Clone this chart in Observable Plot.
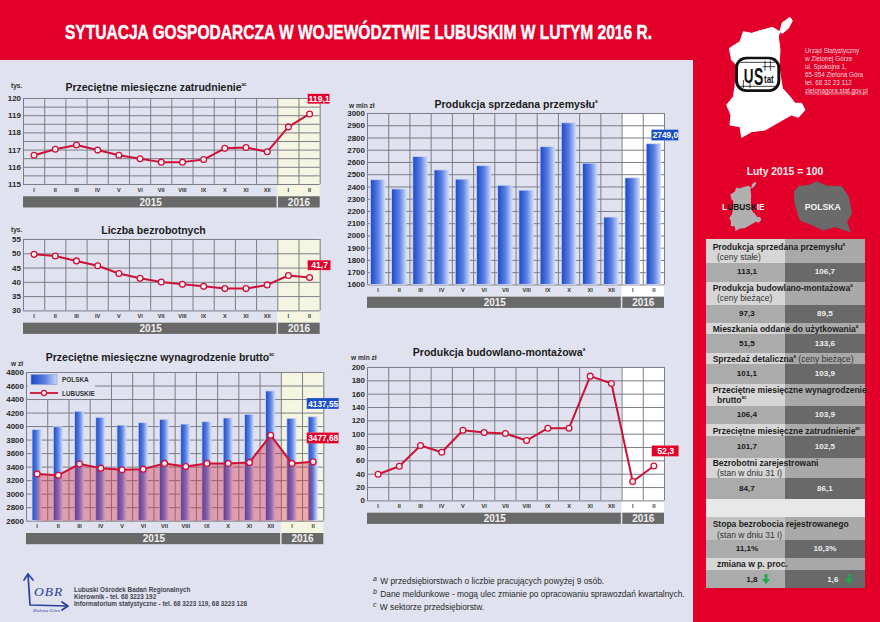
<!DOCTYPE html>
<html lang="pl">
<head>
<meta charset="utf-8">
<title>Sytuacja gospodarcza w województwie lubuskim w lutym 2016 r.</title>
<script src="https://cdn.jsdelivr.net/npm/d3@7"></script>
<script src="https://cdn.jsdelivr.net/npm/@observablehq/plot@0.6"></script>
<style>
html,body{margin:0;padding:0;background:#e0e2ef;}
#page{position:relative;width:880px;height:622px;overflow:hidden;background:#e0e2ef;font-family:"Liberation Sans",Arial,sans-serif;color:#222;}
.abs{position:absolute;white-space:nowrap;line-height:1;}
.title{font-weight:700;font-size:10.5px;color:#1c1c1c;transform:translate(-50%,-50%);}
.title sup,.th sup{font-size:4.5px;vertical-align:super;line-height:0;font-weight:700;}
.unit{font-weight:700;font-size:6.6px;color:#333;transform:translateY(-50%);}
.th{font-weight:700;font-size:8.5px;color:#1e1e1e;transform:translateY(-50%);}
.th .sub,.sub{font-weight:400;color:#333;}
.tv{font-weight:700;font-size:8.1px;transform:translate(-50%,-50%);}
.foot{font-size:8.4px;color:#2a2a2a;transform:translateY(-50%);}
.foot i{font-size:7px;vertical-align:3px;margin-right:1px;}
.obr{font-size:6.35px;font-weight:700;color:#454550;transform:translateY(-50%);}
</style>
</head>
<body>
<svg width="0" height="0" style="position:absolute">
  <defs>
    <linearGradient id="barGrad" x1="0" x2="1" y1="0" y2="0">
      <stop offset="0" stop-color="#1a48c8"/>
      <stop offset=".55" stop-color="#5c82e2"/>
      <stop offset="1" stop-color="#ccd8f6"/>
    </linearGradient>
  </defs>
</svg>
<div id="page"></div>
<script>
// ---------- data ----------
const months = ["I","II","III","IV","V","VI","VII","VIII","IX","X","XI","XII","I","II"];
const years = ["2015","2016"];
const employment = [116.7,117.05,117.3,117.0,116.7,116.5,116.3,116.3,116.45,117.1,117.15,116.9,118.35,119.1];
const unemployed = [49.8,49.2,47.5,45.8,43.1,41.4,40.1,39.3,38.6,37.8,37.8,39.1,42.4,41.7];
const wagesPolska = [3950,3990,4220,4130,4015,4050,4100,4030,4065,4120,4175,4520,4115,4137.55];
const wagesLubuskie = [3300,3280,3445,3385,3360,3370,3455,3410,3455,3455,3470,3870,3455,3477.68];
const industry = [2455,2380,2645,2535,2460,2570,2410,2370,2725,2920,2590,2150,2470,2749];
const construction = [40,52,83,73,106,102.5,101,90.5,109,109,187,176,29,52.3];

const tableHeads = [
  'Produkcja sprzedana przemysłu<sup>a</sup>',
  'Produkcja budowlano-montażowa<sup>a</sup>',
  'Mieszkania oddane do użytkowania<sup>a</sup>',
  'Sprzedaż detaliczna<sup>a</sup> <span class="sub">(ceny bieżące)</span>',
  'Przeciętne miesięczne wynagrodzenie',
  'Przeciętne miesięczne zatrudnienie<sup>ac</sup>',
  'Bezrobotni zarejestrowani',
  'Stopa bezrobocia rejestrowanego'
];
const tableSubs = ['(ceny stałe)','(ceny bieżące)','','','<b style="color:#1e1e1e">brutto<sup>ac</sup></b>','','(stan w dniu 31 I)','(stan w dniu 31 I)'];
const tableLubuskie = ["113,1","97,3","51,5","101,1","106,4","101,7","84,7","11,1%"];
const tablePolska = ["106,7","89,5","133,6","103,9","103,9","102,5","86,1","10,3%"];
const changeLabel = "zmiana w p. proc.";
const changeValues = ["1,8","1,6"];
const footnotes = [
  ["a","W przedsiębiorstwach o liczbie pracujących powyżej 9 osób."],
  ["b","Dane meldunkowe - mogą ulec zmianie po opracowaniu sprawozdań kwartalnych."],
  ["c","W sektorze przedsiębiorstw."]
];
const address = ["Urząd Statystyczny","w Zielonej Górze","ul. Spokojna 1,","65-954 Zielona Góra","tel. 68 32 23 112","zielonagora.stat.gov.pl"];
const obrLines = ["Lubuski Ośrodek Badań Regionalnych","Kierownik - tel. 68 3223 192","Informatorium statystyczne - tel. 68 3223 119, 68 3223 128"];

// ---------- colours ----------
const RED="#e2002a", LINE="#cc1238", BLUE="#1b50c4", GRID="#7c7c86", BAR="#696969", CREAM="#f5f6e2";
const page=document.getElementById("page");

function put(html,cls,x,y,extra){
  const d=document.createElement("div");
  d.className="abs "+cls;d.innerHTML=html;d.style.left=x+"px";d.style.top=y+"px";
  if(extra)Object.assign(d.style,extra);
  page.appendChild(d);return d;
}
function box(x,y,w,h,bg){
  const d=document.createElement("div");
  Object.assign(d.style,{position:"absolute",left:x+"px",top:y+"px",width:w+"px",height:h+"px",background:bg});
  page.appendChild(d);return d;
}

// ---------- frame ----------
box(0,0,880,59.5,RED);
box(692.5,0,187.5,622,RED);

// ---------- shared chart builder ----------
function badge(xv,yv,label,color,dx,dy,w,h,fs){
  const d=[{x:xv,y:yv,label}];
  return [
    Plot.rect(d,{x1:"x",x2:"x",y1:"y",y2:"y",dx,dy,fill:color,stroke:"#ffffff",strokeOpacity:.35,strokeWidth:.5,
      insetLeft:-w/2,insetRight:-w/2,insetTop:-h/2,insetBottom:-h/2}),
    Plot.text(d,{x:"x",y:"y",dx,dy,text:"label",fill:"#fff",fontWeight:700,fontSize:fs||8.6})
  ];
}
function redLine(rows){
  return [
    Plot.line(rows,{x:"x",y:"y",stroke:LINE,strokeWidth:2}),
    Plot.dot(rows,{x:"x",y:"y",r:2.9,fill:"#fdf0f2",stroke:LINE,strokeWidth:1.3})
  ];
}
function chart({left,right,top,bottom,yDomain,yTicks,grid,band,marks}){
  const ml=30,mr=26,mt=8,mb=28;
  const [y0,y1]=yDomain;
  const row=months.map((m,i)=>({i,m}));
  const spans=[{name:years[0],a:0,b:12,l:0,r:.75},{name:years[1],a:12,b:14,l:.75,r:0}];
  const svg=Plot.plot({
    width:right-left+ml+mr,height:bottom-top+mt+mb,
    marginLeft:ml,marginRight:mr,marginTop:mt,marginBottom:mb,
    style:{background:"transparent",fontFamily:'"Liberation Sans",Arial,sans-serif',overflow:"visible",maxWidth:"none"},
    x:{domain:[0,14],axis:null},
    y:{domain:yDomain,axis:null},
    marks:[
      Plot.rect([spans[1]],{x1:"a",x2:"b",y1:()=>y0,y2:()=>y1,fill:band,insetBottom:-12.3}),
      Plot.ruleY(grid,{stroke:GRID,strokeWidth:1}),
      Plot.ruleX(d3.range(0,15),{stroke:GRID,strokeWidth:1}),
      ...marks,
      Plot.axisY(yTicks,{anchor:"left",tickSize:0,tickPadding:2.5,fontSize:8,fontWeight:700,fill:"#2a2a2a",label:null,tickFormat:"d"}),
      Plot.text(row,{x:d=>d.i+.5,y:()=>y0,dy:5.5,text:"m",fontSize:5.6,fontWeight:700,fill:"#333"}),
      ...spans.map(s=>Plot.rect([s],{x1:"a",x2:"b",y1:()=>y0,y2:()=>y0,fill:BAR,
        insetLeft:s.l,insetRight:s.r,insetTop:12.3,insetBottom:-23.5})),
      Plot.text(spans,{x:d=>(d.a+d.b)/2,y:()=>y0,dy:18,text:"name",fontSize:10,fontWeight:700,fill:"#f0f0f0"})
    ]
  });
  const w=document.createElement("div");
  Object.assign(w.style,{position:"absolute",left:(left-ml)+"px",top:(top-mt)+"px",width:(right-left+ml+mr)+"px",height:(bottom-top+mt+mb)+"px"});
  w.appendChild(svg);page.appendChild(w);
}
const pts=v=>v.map((y,i)=>({x:i+.5,y}));
const bars=(v,base,pad)=>v.map((y,i)=>({x1:i+pad,x2:i+1-pad,y1:base,y2:y}));
const barStyle={x1:"x1",x2:"x2",y1:"y1",y2:"y2",fill:"url(#barGrad)",stroke:"#cdd6f2",strokeWidth:.8};

// Przeciętne miesięczne zatrudnienie
chart({left:23.3,right:320,top:97.7,bottom:183.7,yDomain:[115,120],yTicks:[115,116,117,118,119,120],
  grid:d3.range(115,120.5,.5),band:CREAM,
  marks:[...redLine(pts(employment)),...badge(13.5,employment[13],"119,1",RED,9.5,-14.7,22,10)]});
// Liczba bezrobotnych
chart({left:23.3,right:320,top:239.3,bottom:310.7,yDomain:[30,55],yTicks:[30,35,40,45,50,55],
  grid:[30,35,40,45,50,55],band:CREAM,
  marks:[...redLine(pts(unemployed)),...badge(13.5,unemployed[13],"41,7",RED,10,-11.8,23,10)]});
// Przeciętne miesięczne wynagrodzenie brutto
const wageTicks=d3.range(2600,5000,200);
chart({left:26,right:323.3,top:372,bottom:520.7,yDomain:[2600,4800],yTicks:wageTicks,grid:wageTicks,band:CREAM,
  marks:[
    Plot.rect(bars(wagesPolska,2600,.285),barStyle),
    Plot.area(pts(wagesLubuskie),{x1:"x",y1:()=>2600,y2:"y",fill:"#dc2840",fillOpacity:.36}),
    ...redLine(pts(wagesLubuskie)),
    ...badge(13.5,wagesPolska[13],"4137,55",BLUE,10,-13.3,32,11,8.3),
    ...badge(13.5,wagesLubuskie[13],"3477,68",RED,10,-23.4,32,11,8.3)
  ]});
// Produkcja sprzedana przemysłu
const indTicks=d3.range(1600,3100,100);
chart({left:367.3,right:664.3,top:113.3,bottom:284.7,yDomain:[1600,3000],yTicks:indTicks,grid:indTicks,band:"#ffffff",
  marks:[Plot.rect(bars(industry,1600,.16),barStyle),...badge(13.5,industry[13],"2749,0",BLUE,11.5,-8.7,27,11,8.3)]});
// Produkcja budowlano-montażowa
const conTicks=d3.range(0,220,20);
chart({left:367.3,right:664.3,top:367.3,bottom:500.7,yDomain:[0,200],yTicks:conTicks,grid:conTicks,band:"#ffffff",
  marks:[...redLine(pts(construction)),...badge(13.5,construction[13],"52,3",RED,11.8,-14.6,27,11,8.8)]});

// ---------- titles and units ----------
put('Przeciętne miesięczne zatrudnienie<sup>ac</sup>',"title",156,87);
put('Liczba bezrobotnych',"title",153.5,230);
put('Przeciętne miesięczne wynagrodzenie brutto<sup>ac</sup>',"title",160,356.7);
put('Produkcja sprzedana przemysłu<sup>a</sup>',"title",516,104.3);
put('Produkcja budowlano-montażowa<sup>a</sup>',"title",499,352);
put('tys.',"unit",11,85.7);
put('tys.',"unit",11,230);
put('w zł',"unit",11,364);
put('w mln zł',"unit",349,105.7);
put('w mln zł',"unit",351,358);

// ---------- legend ----------
box(28,372.5,67,26.5,"#e0e2ef");
put('<svg width="30" height="28" style="display:block"><rect x="1" y="1.5" width="26" height="10" fill="url(#barGrad)" stroke="#8ea2d8" stroke-width=".7"/><line x1="0" x2="28" y1="20" y2="20" stroke="'+LINE+'" stroke-width="1.8"/><circle cx="14" cy="20" r="2.6" fill="#fdf0f2" stroke="'+LINE+'" stroke-width="1.2"/></svg>',"",30,373);
put('POLSKA',"unit",62,380,{fontSize:"6.4px"});
put('LUBUSKIE',"unit",62,393.5,{fontSize:"6.4px"});

// ---------- heading ----------
put('<svg width="810" height="30" style="display:block"><text x="0" y="23" font-size="21" font-weight="700" fill="#fff" stroke="#fff" stroke-width=".45" textLength="587" lengthAdjust="spacingAndGlyphs" font-family="Liberation Sans Narrow,Liberation Sans,Arial,sans-serif">SYTUACJA GOSPODARCZA W WOJEWÓDZTWIE LUBUSKIM W LUTYM 2016 R.</text></svg>',"",65,16);

// ---------- right panel graphics (drawn in 3x panel units) ----------
const shape="285,52 292,62 280,85 262,100 232,82 195,92 170,100 145,95 135,125 103,145 110,180 125,195 120,260 115,290 95,315 108,345 105,375 135,380 140,412 170,395 210,390 245,370 280,350 290,345 310,352 330,330 320,310 300,310 285,290 262,265 252,200 255,150 250,110 262,68";
const poland="298,575 310,560 345,555 365,545 395,558 440,560 460,590 470,640 455,665 465,695 420,680 385,690 345,672 315,660 300,610";
const addr=address.map((t,i)=>`<text x="330" y="${160+i*23.6}" font-size="19" fill="#f9d5dc"${i==5?' text-decoration="underline"':''}>${t}</text>`).join("");
put(`<svg width="185" height="240" viewBox="0 0 555 720" style="display:block" font-family="Liberation Sans,Arial,sans-serif">
  <polygon points="${shape}" fill="#fff" stroke="#fff" stroke-width="3" stroke-linejoin="round"/>
  <rect x="120" y="170" width="136" height="106" rx="34" fill="#111"/>
  <rect x="129" y="178" width="118" height="90" rx="26" fill="#fff"/>
  <g stroke="#111" stroke-width="2.4">
    <line x1="136" x2="240" y1="187" y2="187"/><line x1="136" x2="240" y1="259" y2="259"/>
    <line x1="210" x2="210" y1="182" y2="212"/><line x1="226" x2="226" y1="182" y2="212"/><line x1="203" x2="240" y1="200" y2="200"/>
    <line x1="145" x2="145" y1="240" y2="264"/><line x1="165" x2="165" y1="240" y2="264"/>
  </g>
  <text transform="translate(146,248) scale(.7,1)" font-size="58" font-weight="700" fill="#111">U</text>
  <text transform="translate(177,256) scale(.58,1)" font-size="72" font-weight="700" fill="#111">S</text>
  <text transform="translate(207,250) scale(.8,1)" font-size="30" font-weight="700" fill="#111">tat</text>
  ${addr}
  <text x="270" y="526" text-anchor="middle" font-size="31" font-weight="700" fill="#f6e9ec">Luty 2015 = 100</text>
  <polygon points="${shape}" fill="#b0b0b0" transform="translate(64,524) scale(.41)"/>
  <polygon points="${poland}" fill="#6a6a6a" stroke="#6a6a6a" stroke-width="3" stroke-linejoin="round"/>
  <text x="145" y="630" text-anchor="middle" font-size="25" font-weight="700" fill="#f2f2f2">L<tspan fill="#111">UBUSK</tspan>IE</text>
  <text x="383" y="631" text-anchor="middle" font-size="26" font-weight="700" fill="#f4f4f4">POLSKA</text>
</svg>`,"",695,0);

// ---------- table ----------
const tL=706,tM=785.3,tR=865;
const C={hL:"#d6d6d6",hR:"#a9a9a9",vL:"#ababab",vR:"#696969"};
const geom=[
  {t:239,h:262.7,v:281.7,y1:246.7,y2:257.3},
  {t:281.7,h:305.3,v:323.3,y1:287.7,y2:298.3},
  {t:323.3,h:334,v:353.3,y1:329.3},
  {t:353.3,h:364.3,v:384,y1:359.3},
  {t:384,h:405.7,v:424.3,y1:390,y2:399.8},
  {t:424.3,h:436,v:458.3,y1:431},
  {t:458.3,h:478.3,v:499,y1:462.5,y2:472.7},
  {t:516.7,h:540,v:558.3,y1:524,y2:534.5,alt:true}
];
box(tL,499,tR-tL,17.7,"#e8e8e8");
geom.forEach((g,i)=>{
  box(tL,g.t,tM-tL,g.h-g.t,g.alt?"#c2c2c2":C.hL);
  box(tM,g.t,tR-tM,g.h-g.t,C.hR);
  box(tL,g.h,tM-tL,g.v-g.h,C.vL);
  box(tM,g.h,tR-tM,g.v-g.h,C.vR);
  put(tableHeads[i],"th",712.7,g.y1);
  if(tableSubs[i])put(tableSubs[i],"th sub",717,g.y2);
  const yv=(g.h+g.v)/2;
  put(tableLubuskie[i],"tv",747,yv,{color:"#1a1a1a"});
  put(tablePolska[i],"tv",825,yv,{color:"#eeeeee"});
});
box(tL,558.3,tM-tL,11.4,"#d6d6d6");
box(tM,558.3,tR-tM,11.4,C.hR);
box(tL,569.7,tM-tL,18,C.vL);
box(tM,569.7,tR-tM,18,C.vR);
put(changeLabel,"th",717,564.3);
put(changeValues[0],"tv",752,579.5,{color:"#1a1a1a"});
put(changeValues[1],"tv",833,579.5,{color:"#eeeeee"});
const arrow='<svg width="8" height="10" style="display:block"><polygon points="2.6,0 5.4,0 5.4,5 8,5 4,10 0,5 2.6,5" fill="#1fa84a"/></svg>';
put(arrow,"",762.3,574);
put(arrow,"",845.3,574);

// ---------- footnotes ----------
footnotes.forEach(([k,t],i)=>put(`<i>${k}</i> ${t}`,"foot",373,580+i*13));

// ---------- OBR block ----------
put(`<svg width="54" height="44" viewBox="0 0 54 44" style="display:block" font-family="Liberation Serif,serif">
  <g fill="none" stroke="#2a3f9e" stroke-width="1.7" stroke-linecap="round" stroke-linejoin="round">
    <path d="M5 2 L7 33 L44 34"/><path d="M1 8 L5 2 L10 8"/><path d="M39 30 L45 34 L39 38"/>
  </g>
  <text x="11" y="24" font-size="13.5" font-style="italic" fill="#2a3f9e" letter-spacing="1">OBR</text>
  <text x="10" y="40" font-size="5" font-style="italic" fill="#2a3f9e">Zielona Góra</text>
</svg>`,"",23,572);
obrLines.forEach((t,i)=>put(t,"obr",74,589.7+i*7));
</script>
</body>
</html>
